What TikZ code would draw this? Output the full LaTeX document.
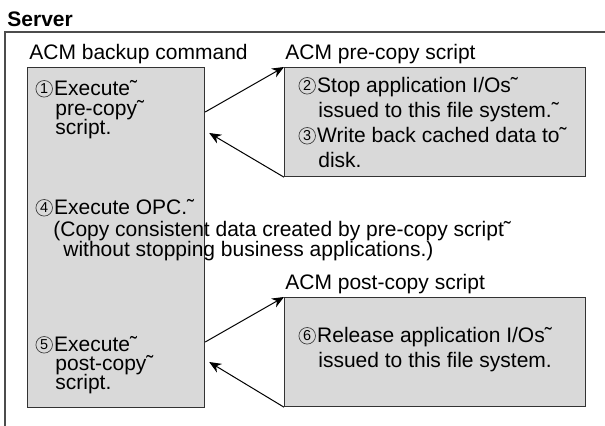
\documentclass[tikz,border=0pt]{standalone}
\usepackage{fontspec}
\setmainfont{Liberation Sans}
\usetikzlibrary{arrows.meta,calc}
% thin circled step number, set inline on the text baseline
\newcommand\cnum[1]{\tikz[x=1pt,y=1pt,baseline=0pt]{%
  \path[use as bounding box] (0,-1) rectangle (9.4,8);
  \draw[black!75, line width=0.35pt] (4.4,3.6) circle (4.15pt);
  \node[anchor=center, inner sep=0pt, font=\fontsize{7.2}{8}\selectfont] at (4.4,3.55) {#1};}}
\begin{document}
\begin{tikzpicture}[x=0.5pt,y=-0.5pt,
  txt/.style={anchor=base west, inner sep=0pt, font=\fontsize{10.5}{12}\selectfont},
  ttl/.style={anchor=base west, inner sep=0pt, font=\fontsize{10.5}{12}\selectfont\bfseries},
  procbox/.style={draw=black!80, line width=0.6pt, fill=black!15, anchor=north west,
                  inner sep=0pt},
  frame/.style={draw=black!70, line width=0.8pt},
  arr/.style={draw=black, line width=0.5pt, -{Stealth[length=6pt,width=5pt]}}]
\useasboundingbox (0,0) rectangle (605,426);

% server frame (open to the right and bottom)
\node[ttl] (server) at (7,27) {Server};
\coordinate (fbl) at (5,426);
\coordinate (ftl) at (5,32);
\coordinate (ftr) at (605,32);
\draw[frame] (fbl) -- (ftl) -- (ftr);

% boxes
\node[procbox, minimum width=88.5pt, minimum height=170pt] (cmd) at (27,67) {};
\node[procbox, minimum width=150.5pt, minimum height=54.5pt] (pre) at (284,67) {};
\node[procbox, minimum width=150.5pt, minimum height=54.5pt] (post) at (284,297) {};

% box titles
\node[txt] (tcmd) at (29,60) {ACM backup command};
\node[txt] (tpre) at (285,60) {ACM pre-copy script};
\node[txt] (tpost) at (285,290) {ACM post-copy script};

% backup command steps
\node[txt] (s1a) at (35,96) {\cnum{1}Execute˜};
\node[txt] (s1b) at (55,116) {pre-copy˜};
\node[txt] (s1c) at (55,135) {script.};
\node[txt] (s4a) at (35,215) {\cnum{4}Execute OPC.˜};
\node[txt] (s4b) at (53,237) {(Copy consistent data created by pre-copy script˜};
\node[txt] (s4c) at (63,257) {without stopping business applications.)};
\node[txt] (s5a) at (35,352) {\cnum{5}Execute˜};
\node[txt] (s5b) at (55,371) {post-copy˜};
\node[txt] (s5c) at (55,390) {script.};

% pre-copy script steps
\node[txt] (s2a) at (298,93) {\cnum{2}Stop application I/Os˜};
\node[txt] (s2b) at (318,118) {issued to this file system.˜};
\node[txt] (s3a) at (298,143) {\cnum{3}Write back cached data to˜};
\node[txt] (s3b) at (318,168) {disk.};

% post-copy script steps
\node[txt] (s6a) at (298,343) {\cnum{6}Release application I/Os˜};
\node[txt] (s6b) at (318,368) {issued to this file system.};

% calls and returns
\draw[arr] ($(cmd.north east)+(0,45)$) -- (pre.north west);
\draw[arr] (pre.south west) -- ($(cmd.north east)+(4,66)$);
\draw[arr] ($(cmd.north east)+(0,275)$) -- (post.north west);
\draw[arr] (post.south west) -- ($(cmd.north east)+(4,295)$);
\end{tikzpicture}
\end{document}
